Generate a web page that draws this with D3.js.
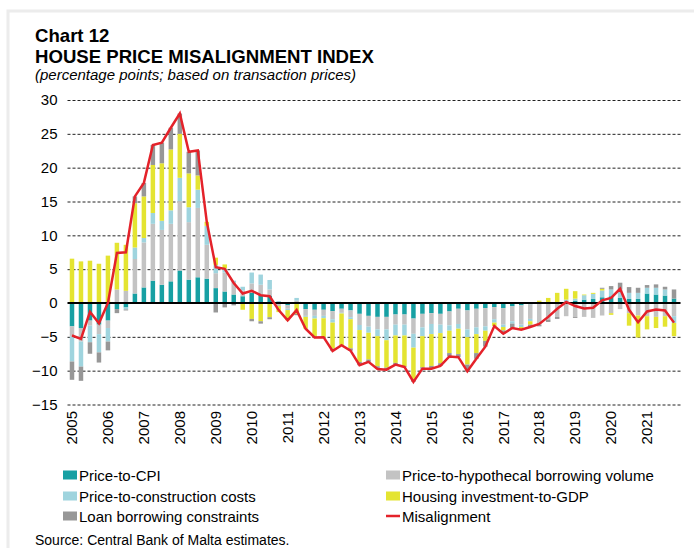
<!DOCTYPE html>
<html>
<head>
<meta charset="utf-8">
<script src="https://cdn.jsdelivr.net/npm/d3@7"></script>
<style>
  html, body { margin: 0; padding: 0; background: #ffffff; }
  svg { display: block; font-family: "Liberation Sans", Arial, sans-serif; }
</style>
</head>
<body>
<script>
// ---------------- DATA ----------------
const years = ["2005","2006","2007","2008","2009","2010","2011","2012","2013","2014","2015","2016","2017","2018","2019","2020","2021"];
const quarterNames = ["Q1","Q2","Q3","Q4"];
const quarters = years.flatMap(y => quarterNames.map(q => y + q));
const yTicks = [-15, -10, -5, 0, 5, 10, 15, 20, 25, 30];

const priceToCPI = [
  -3.45,-3.7,-2.6,-3.2, -2.6,-0.9,-0.65,1.4, 2.3,3.3,2.7,3.2, 4.8,3.45,3.8,3.6,
  2.2,1.7,1.25,1.0, 1.5,1.2,1.1,-0.15, -0.35,0,-0.9,-1.0, -1.0,-1.2,-0.85,-1.1,
  -1.6,-1.9,-2.05,-2.05, -1.7,-1.7,-2.3,-1.6, -1.5,-1.6,-1.25,-0.85, -1.1,-0.85,-0.75,-0.6,
  -0.75,-0.5,-0.35,-0.2, 0,0,0,0.15, 0.35,0.5,0.6,0.85, 1.0,0.75,0.6,0.6, 1.4,1.25,1.1,0.65
];
const priceToBorrowing = [
  -1.5,-2.0,-0.75,-1.4, -1.1,2.0,1.8,5.1, 6.65,8.4,8.1,8.5, 10.25,8.5,10.25,5.0,
  2.2,2.8,1.85,0.85, 1.4,1.5,0.9,-0.3, -0.5,0.35,-1.0,-0.9, -0.9,-1.2,-0.6,-1.0,
  -1.65,-1.6,-1.85,-1.85, -1.5,-1.5,-2.25,-2.0, -1.6,-1.6,-2.05,-2.25, -2.8,-2.75,-2.7,-1.8,
  -2.45,-2.2,-2.85,-2.15, -3.2,-2.45,-2.05,-1.95, -2.05,-2.05,-2.2,-1.85, -1.5,-0.9,-1.5,-1.85, -1.95,-2.05,-1.95,-1.95
];
const priceToConstruction = [
  -3.7,-3.7,-2.45,-2.7, -2.0,0,-0.3,1.7, 0.65,1.6,1.35,2.0, 3.45,2.2,2.7,2.8,
  1.2,0.6,0.2,0.55, 1.6,1.5,1.4,0.3, -0.2,0.4,-0.15,-0.4, -0.35,-0.5,-0.1,-0.3,
  -0.75,-0.9,-1.0,-1.6, -1.6,-1.6,-2.05,-1.3, -1.5,-1.25,-0.8,-0.7, -1.15,-1.0,-0.65,-0.5,
  -0.35,-0.35,-0.35,-0.35, 0,0,0,0.35, 0.3,0.65,0.75,1.0, 1.0,1.25,0.9,0.9, 0.85,1.0,0.9,-1.0
];
const housingInvestment = [
  6.55,6.15,6.25,5.8, 7.0,6.9,6.8,6.55, 6.15,7.1,8.5,9.0, 6.5,5.0,2.1,0.6,
  1.1,0.6,0,-1.0, -2.35,-2.7,-2.1,-0.9, -1.5,-1.6,-1.75,-2.6, -2.8,-3.85,-4.7,-4.3,
  -4.7,-3.95,-4.45,-4.05, -4.05,-4.55,-4.7,-4.6, -4.7,-4.45,-3.3,-3.75, -4.05,-2.8,-1.5,-0.5,
  -0.5,0,-0.4,-0.5, 0.35,0.75,1.5,1.6, 1.1,0.1,0.15,0.25, -0.25,0,-1.85,-3.25, -1.95,-1.65,-1.55,-1.95
];
const loanConstraints = [
  -2.7,-2.1,-1.7,-1.5, -1.3,-0.6,-0.15,1.0, 2.0,2.95,3.05,3.2, 3.0,3.2,3.7,0,
  -1.4,-0.65,-0.35,0, -0.35,-0.35,-0.3,0, 0,-0.2,0,-0.2, 0,-0.35,0,-0.35,
  -0.5,-0.35,-0.4,-0.3, -0.25,-0.1,-0.35,-0.2, -0.4,-0.4,-0.5,-0.45, -1.0,-0.85,-0.85,0,
  -0.5,-0.65,0,-0.35, -0.25,-0.35,-0.3,0, -0.15,0,0,0.15, 0.5,1.0,0.85,0.75, 0.4,0.5,0.4,1.35
];
const misalignment = [
  -4.8,-5.3,-1.3,-3.0, 0.0,7.4,7.5,15.75, 17.75,23.35,23.7,25.9, 28.0,22.35,22.55,12.0,
  5.3,5.05,2.95,1.4, 1.8,1.15,1.0,-1.05, -2.55,-1.05,-3.8,-5.1, -5.05,-7.1,-6.25,-7.05,
  -9.2,-8.7,-9.75,-9.85, -9.1,-9.45,-11.65,-9.7, -9.7,-9.3,-7.9,-8.0, -10.1,-8.25,-6.45,-3.4,
  -4.55,-3.7,-3.95,-3.55, -3.1,-2.05,-0.85,0.15, -0.45,-0.8,-0.7,0.4, 0.75,2.1,-1.0,-2.85, -1.25,-0.95,-1.1,-2.9
];

const seriesNames = ["Price-to-CPI","Price-to-hypothecal borrowing volume","Price-to-construction costs","Housing investment-to-GDP","Loan borrowing constraints"];
const seriesValues = [priceToCPI, priceToBorrowing, priceToConstruction, housingInvestment, loanConstraints];
const seriesColors = ["#17a0a3","#c3c3c3","#9fd4de","#e4e431","#979797"];
const lineName = "Misalignment";
const lineColor = "#e4222a";

// ---------------- CHART ----------------
const W = 694, H = 548;
const svg = d3.select("body").append("svg").attr("width", W).attr("height", H);

// frame
svg.append("rect").attr("x", 8).attr("y", 11).attr("width", 720).attr("height", 600)
  .attr("fill", "none").attr("stroke", "#ececec").attr("stroke-width", 3);

// titles
svg.append("text").attr("x", 35).attr("y", 42).attr("font-size", 18.6).attr("font-weight", "bold").attr("fill", "#000").text("Chart 12");
svg.append("text").attr("x", 35).attr("y", 63).attr("font-size", 18.6).attr("font-weight", "bold").attr("fill", "#000").text("HOUSE PRICE MISALIGNMENT INDEX");
svg.append("text").attr("x", 35).attr("y", 80).attr("font-size", 15).attr("font-style", "italic").attr("fill", "#000").text("(percentage points; based on transaction prices)");

const plotLeft = 67.5, plotRight = 678.5;
const x = d3.scaleBand().domain(quarters).range([plotLeft, plotRight]).paddingInner(0.5).paddingOuter(0.25);
const y = d3.scaleLinear().domain([-15, 30]).range([404.5, 100]);

// y axis + gridlines
const yAxis = svg.append("g").attr("transform", `translate(${plotLeft},0)`)
  .call(d3.axisLeft(y).tickValues(yTicks).tickSize(-(plotRight - plotLeft + 2)).tickPadding(10).tickFormat(d3.format("d")));
yAxis.select(".domain").remove();
yAxis.selectAll(".tick line").attr("stroke", "#222").attr("stroke-width", 1).attr("stroke-dasharray", "3,2")
  .attr("opacity", d => d === 0 ? 0 : 1);
yAxis.selectAll(".tick text").attr("font-size", 15).attr("fill", "#000").attr("font-family", "Liberation Sans, Arial, sans-serif");

// stacked bars
const rows = quarters.map((q, i) => {
  const r = { q };
  seriesNames.forEach((s, k) => r[s] = seriesValues[k][i]);
  return r;
});
const stacked = d3.stack().keys(seriesNames).offset(d3.stackOffsetDiverging)(rows);

const gBars = svg.append("g");
stacked.forEach((layer, k) => {
  gBars.append("g").attr("fill", seriesColors[k])
    .selectAll("rect").data(layer).join("rect")
    .attr("x", d => x(d.data.q))
    .attr("width", x.bandwidth())
    .attr("y", d => y(Math.max(d[0], d[1])))
    .attr("height", d => Math.abs(y(d[0]) - y(d[1])));
});

// zero line
svg.append("line").attr("x1", plotLeft).attr("x2", plotRight + 2).attr("y1", y(0)).attr("y2", y(0))
  .attr("stroke", "#000").attr("stroke-width", 2);

// misalignment line
const line = d3.line().x((d, i) => x(quarters[i]) + x.bandwidth() / 2).y(d => y(d));
svg.append("path").datum(misalignment).attr("d", line)
  .attr("fill", "none").attr("stroke", lineColor).attr("stroke-width", 2.5).attr("stroke-linejoin", "miter");

// x labels (years at Q1)
const gx = svg.append("g");
years.forEach(yr => {
  const cx = x(yr + "Q1") + x.bandwidth() / 2;
  gx.append("text").attr("transform", `translate(${cx},411) rotate(-90)`)
    .attr("text-anchor", "end").attr("dy", "0.35em").attr("font-size", 15).attr("fill", "#000").text(yr);
});

// legend
const legendItems = [
  { name: seriesNames[0], color: seriesColors[0], type: "rect", col: 0, row: 0 },
  { name: seriesNames[1], color: seriesColors[1], type: "rect", col: 1, row: 0 },
  { name: seriesNames[2], color: seriesColors[2], type: "rect", col: 0, row: 1 },
  { name: seriesNames[3], color: seriesColors[3], type: "rect", col: 1, row: 1 },
  { name: seriesNames[4], color: seriesColors[4], type: "rect", col: 0, row: 2 },
  { name: lineName, color: lineColor, type: "line", col: 1, row: 2 }
];
const colX = [63, 386], rowY = [475, 496, 516];
const gl = svg.append("g");
legendItems.forEach(it => {
  const lx = colX[it.col], ly = rowY[it.row];
  if (it.type === "rect") {
    gl.append("rect").attr("x", lx).attr("y", ly - 4.5).attr("width", 14).attr("height", 9).attr("fill", it.color);
  } else {
    gl.append("line").attr("x1", lx).attr("x2", lx + 14).attr("y1", ly).attr("y2", ly).attr("stroke", it.color).attr("stroke-width", 2.5);
  }
  gl.append("text").attr("x", lx + 16).attr("y", ly + 5.5).attr("font-size", 15).attr("fill", "#000").text(it.name);
});

// source
svg.append("text").attr("x", 35).attr("y", 545).attr("font-size", 14).attr("fill", "#000").text("Source: Central Bank of Malta estimates.");
</script>
</body>
</html>
